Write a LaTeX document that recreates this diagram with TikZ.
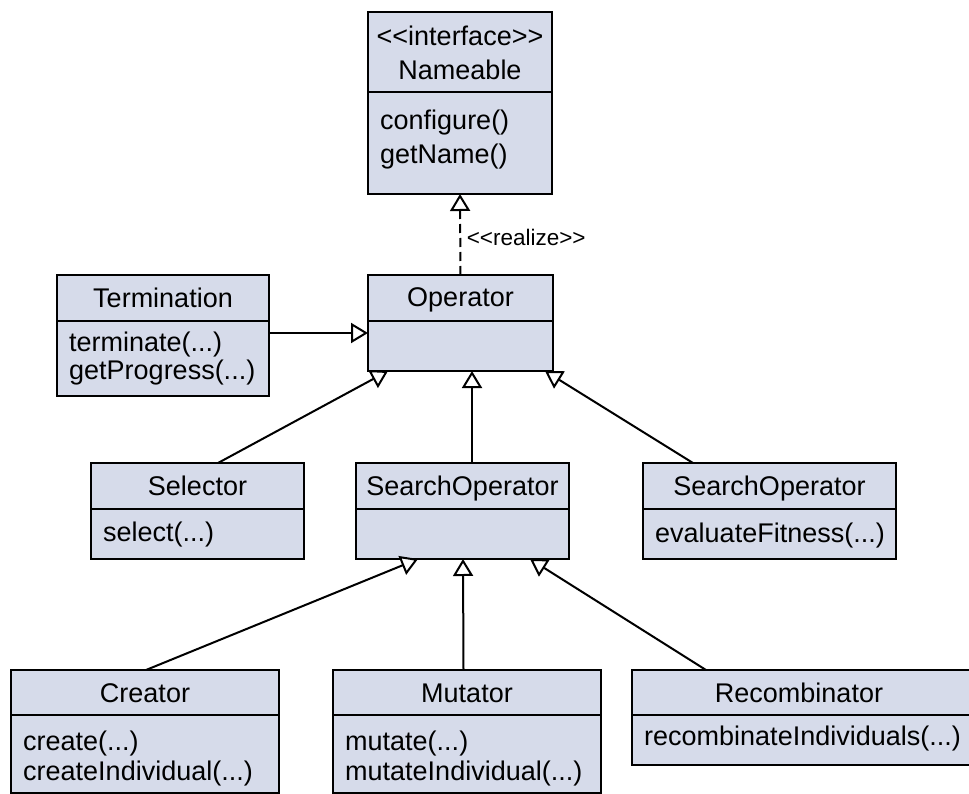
\documentclass[tikz,border=0pt]{standalone}
\usepackage{fontspec}
\setmainfont{Liberation Sans}
\usetikzlibrary{arrows.meta}
\definecolor{classfill}{RGB}{214,219,234}
% guillemet-free stereotype brackets (kerns stop the << ligature)
\newcommand\stereo[1]{<\kern0pt<#1>\kern0pt>}
\tikzset{
  cls/.style={draw=black, fill=classfill, line width=2pt, rectangle,
              inner sep=0pt, outer sep=0pt, anchor=north west},
  divider/.style={draw=black, line width=2pt},
  title/.style={anchor=base, inner sep=0pt, font=\fontsize{27pt}{30pt}\selectfont},
  meth/.style={anchor=base west, inner sep=0pt, font=\fontsize{27pt}{30pt}\selectfont},
  gen/.style={line width=2pt, -{Triangle[length=17pt,width=20pt,fill=white,line width=2pt]}},
  real/.style={gen, dash pattern=on 9pt off 5pt},
}
\begin{document}
\begin{tikzpicture}[x=1pt,y=-1pt]
\useasboundingbox (0,0) rectangle (969,794);
\clip (0,0) rectangle (969,794);

% ---- Nameable ----
\node[cls, minimum width=184pt, minimum height=182pt] (nm) at (368,12) {};
\draw[divider] (368,92) -- (552,92);
\node[title] at (460,46) {\stereo{interface}};
\node[title] at (460,80) {Nameable};
\node[meth] at (380,130) {configure()};
\node[meth] at (380,164) {getName()};

% ---- Operator ----
\node[cls, minimum width=185pt, minimum height=96pt] (op) at (368,275) {};
\draw[divider] (368,321) -- (553,321);
\node[title] at (460.5,307) {Operator};

% ---- Termination ----
\node[cls, minimum width=212pt, minimum height=121pt] (term) at (57,275) {};
\draw[divider] (57,321) -- (269,321);
\node[title] at (163,308) {Termination};
\node[meth] at (69,351) {terminate(...)};
\node[meth] at (69,379) {getProgress(...)};

% ---- Selector ----
\node[cls, minimum width=213pt, minimum height=96pt] (sel) at (91,463) {};
\draw[divider] (91,509) -- (304,509);
\node[title] at (197.5,495) {Selector};
\node[meth] at (103,541) {select(...)};

% ---- SearchOperator (abstract) ----
\node[cls, minimum width=213pt, minimum height=96pt] (som) at (356,463) {};
\draw[divider] (356,509) -- (569,509);
\node[title] at (462.5,495) {SearchOperator};

% ---- SearchOperator (fitness) ----
\node[cls, minimum width=253pt, minimum height=96pt] (sor) at (643,463) {};
\draw[divider] (643,509) -- (896,509);
\node[title] at (769.5,495) {SearchOperator};
\node[meth] at (655,542) {evaluateFitness(...)};

% ---- Creator ----
\node[cls, minimum width=268pt, minimum height=123pt] (cr) at (11,670) {};
\draw[divider] (11,715) -- (279,715);
\node[title] at (145,702) {Creator};
\node[meth] at (23,750) {create(...)};
\node[meth] at (23,780) {createIndividual(...)};

% ---- Mutator ----
\node[cls, minimum width=268pt, minimum height=123pt] (mu) at (333,670) {};
\draw[divider] (333,715) -- (601,715);
\node[title] at (467,702) {Mutator};
\node[meth] at (345,750) {mutate(...)};
\node[meth] at (345,780) {mutateIndividual(...)};

% ---- Recombinator ----
\node[cls, minimum width=348pt, minimum height=95pt] (rc) at (632,670) {};
\draw[divider] (632,715) -- (980,715);
\node[title] at (799,702) {Recombinator};
\node[meth] at (644,745) {recombinateIndividuals(...)};

% ---- relations ----
\draw[real] (op.north) -- (nm.south)
  node[pos=0.5, anchor=base west, xshift=5.5pt, yshift=-11pt, inner sep=0pt,
       font=\fontsize{22.5pt}{24pt}\selectfont] {\stereo{realize}};
\draw[gen] ([yshift=2.5pt]term.east) -- ([yshift=2.5pt]term.east -| op.west);
\draw[gen] ([xshift=20.5pt]sel.north) -- ([xshift=-72.5pt]op.south);
\draw[gen] ([xshift=9.5pt]som.north) -- ([xshift=11.5pt]op.south);
\draw[gen] ([xshift=-76.5pt]sor.north) -- ([xshift=84.5pt]op.south);
\draw[gen] ([xshift=1pt]cr.north) -- ([xshift=-44.5pt]som.south);
\draw[gen] ([xshift=-3.5pt]mu.north) -- ([xshift=0.5pt]som.south);
\draw[gen] ([xshift=-100pt]rc.north) -- ([xshift=67.5pt]som.south);
\end{tikzpicture}
\end{document}
